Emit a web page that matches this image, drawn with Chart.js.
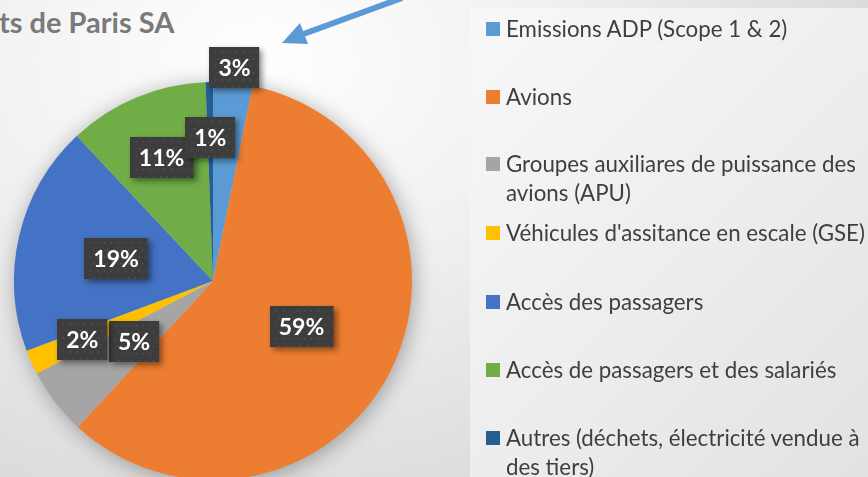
<!DOCTYPE html>
<html>
<head>
<meta charset="utf-8">
<script src="https://cdn.jsdelivr.net/npm/chart.js@4.4.1/dist/chart.umd.min.js"></script>
<style>
  html, body { margin: 0; padding: 0; width: 868px; height: 477px; overflow: hidden; }
  body {
    position: relative;
    background: radial-gradient(ellipse 700px 520px at 260px 60px, #ffffff 0%, #f1f1f1 40%, #d6d6d6 100%);
    font-family: Lato, "Noto Sans", sans-serif;
  }
  #title {
    position: absolute; left: -1px; top: 4px;
    font: bold 29px Lato, sans-serif; color: #7a7a7a; white-space: nowrap;
  }
  #panel {
    position: absolute; left: 470px; top: 8px; width: 398px; height: 469px;
    background: linear-gradient(135deg, #f8f8f8 0%, #eeeeee 50%, #e2e2e2 100%);
  }
  #chartBox { position: absolute; left: 0; top: 0; width: 868px; height: 500px; }
  #legend { position: absolute; left: 486px; top: 14px; width: 380px; }
  .item { position: absolute; left: 0; width: 360px; font-size: 22.3px; line-height: 29px; color: #3f3f3f; padding-left: 20px; }
  .sw { position: absolute; left: 0; top: 8px; width: 14px; height: 14px; }
</style>
</head>
<body>
<div id="panel"></div>
<div id="title">ts de Paris SA</div>
<div id="chartBox"><canvas id="pieChart" width="868" height="500"></canvas></div>
<div id="legend"></div>
<script>
// données (part des émissions, %)
const categories = [
  'Emissions ADP (Scope 1 & 2)',
  'Avions',
  'Groupes auxiliares de puissance des avions (APU)',
  "Véhicules d'assitance en escale (GSE)",
  'Accès des passagers',
  'Accès de passagers et des salariés',
  'Autres (déchets, électricité vendue à des tiers)'
];
const shares = [3.2, 58.7, 5.4, 2.0, 18.7, 11.4, 0.6];
const colors = ['#5b9bd5', '#ed7d31', '#a5a5a5', '#ffc000', '#4472c4', '#70ad47', '#255e91'];
// distance des étiquettes au centre (fraction du rayon)
const labelRadius = [1.08, 0.5, 0.5, 0.72, 0.5, 0.67, 0.72];
const legendTops = [0, 68, 135, 204, 273, 341, 409];

// ombre autour du camembert
const pieShadow = {
  id: 'pieShadow',
  beforeDatasetsDraw(chart) {
    const arc = chart.getDatasetMeta(0).data[0];
    const ctx = chart.ctx;
    ctx.save();
    ctx.shadowColor = 'rgba(0,0,0,0.35)';
    ctx.shadowBlur = 22;
    ctx.shadowOffsetX = 2;
    ctx.shadowOffsetY = 3;
    ctx.fillStyle = '#cccccc';
    ctx.beginPath();
    ctx.arc(arc.x, arc.y, arc.outerRadius - 1, 0, Math.PI * 2);
    ctx.fill();
    ctx.restore();
  }
};

// étiquettes en pourcentage (boîtes sombres)
const pctLabels = {
  id: 'pctLabels',
  afterDatasetsDraw(chart) {
    const ctx = chart.ctx;
    const total = shares.reduce((a, b) => a + b, 0);
    chart.getDatasetMeta(0).data.forEach((arc, i) => {
      const mid = (arc.startAngle + arc.endAngle) / 2;
      const r = arc.outerRadius * labelRadius[i];
      const x = arc.x + Math.cos(mid) * r;
      const y = arc.y + Math.sin(mid) * r;
      const txt = Math.round(shares[i] / total * 100) + '%';
      ctx.save();
      ctx.font = 'bold 23px Lato, sans-serif';
      const w = ctx.measureText(txt).width + 18;
      const h = 41;
      const bx = Math.round(x - w / 2), by = Math.round(y - h / 2);
      ctx.shadowColor = 'rgba(0,0,0,0.45)';
      ctx.shadowBlur = 6;
      ctx.shadowOffsetX = 3;
      ctx.shadowOffsetY = 3;
      ctx.fillStyle = '#3d3d3d';
      ctx.fillRect(bx, by, w, h);
      ctx.shadowColor = 'transparent';
      ctx.fillStyle = '#555555';
      for (let dy = 4; dy < h; dy += 7) {
        for (let dx = 4 + ((dy / 7) % 2) * 3; dx < w; dx += 7) {
          ctx.fillRect(bx + dx, by + dy, 1.5, 1.5);
        }
      }
      ctx.fillStyle = '#ffffff';
      ctx.textAlign = 'center';
      ctx.textBaseline = 'middle';
      ctx.fillText(txt, x, y + 1);
      ctx.restore();
    });
  }
};

// flèche bleue
const arrow = {
  id: 'arrow',
  afterDraw(chart) {
    const ctx = chart.ctx;
    ctx.save();
    ctx.strokeStyle = '#5b9bd5';
    ctx.fillStyle = '#5b9bd5';
    ctx.lineWidth = 6;
    ctx.beginPath();
    ctx.moveTo(402, -2);
    ctx.lineTo(298, 36);
    ctx.stroke();
    ctx.beginPath();
    ctx.moveTo(282, 43);
    ctx.lineTo(300, 23);
    ctx.lineTo(308, 44);
    ctx.closePath();
    ctx.fill();
    ctx.restore();
  }
};

new Chart(document.getElementById('pieChart'), {
  type: 'pie',
  data: {
    labels: categories,
    datasets: [{
      data: shares,
      backgroundColor: colors,
      borderWidth: 0
    }]
  },
  options: {
    responsive: false,
    animation: false,
    layout: { padding: { left: 14, right: 456, top: 82, bottom: 20 } },
    plugins: {
      legend: { display: false },
      tooltip: { enabled: false }
    }
  },
  plugins: [pieShadow, pctLabels, arrow]
});

// légende HTML
const legend = document.getElementById('legend');
categories.forEach((c, i) => {
  const d = document.createElement('div');
  d.className = 'item';
  d.style.top = legendTops[i] + 'px';
  d.innerHTML = '<span class="sw" style="background:' + colors[i] + '"></span>' + c;
  legend.appendChild(d);
});
</script>
</body>
</html>
